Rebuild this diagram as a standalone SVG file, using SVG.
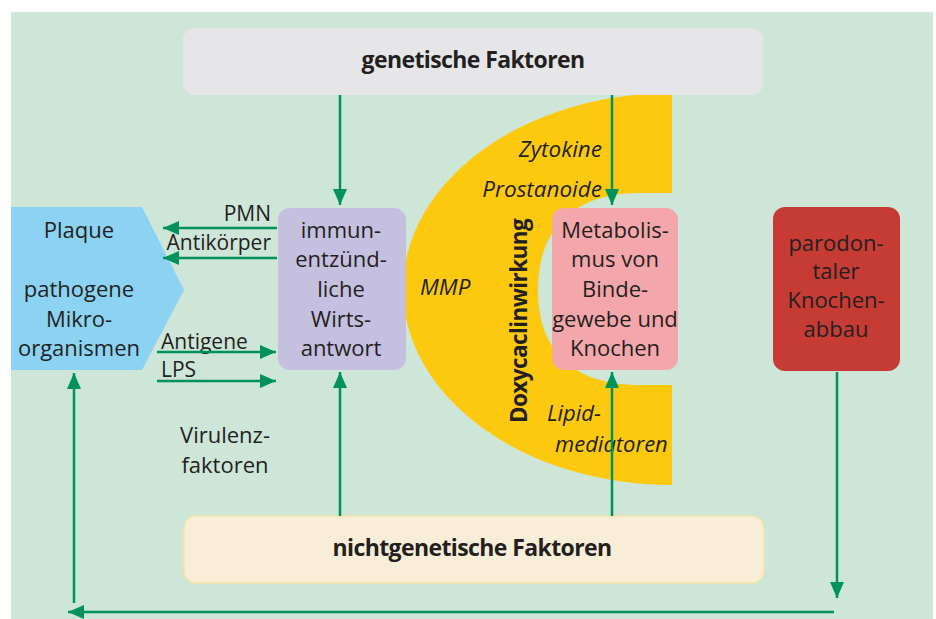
<svg xmlns="http://www.w3.org/2000/svg" width="936" height="619" viewBox="0 0 936 619">
<style>
.t{font-family:"Open Sans","Noto Sans",sans-serif;font-size:22px;fill:#231F20;text-anchor:middle}
.s{font-family:"Open Sans","Noto Sans",sans-serif;font-size:21px;fill:#231F20}
.i{font-family:"Open Sans","Noto Sans",sans-serif;font-size:22.5px;font-style:italic;fill:#231F20}
.b{font-family:"Open Sans","Noto Sans",sans-serif;font-size:23px;font-weight:bold;fill:#231F20;text-anchor:middle;letter-spacing:-0.6px}
.c{fill:none;stroke:#00925A;stroke-width:2.5}
</style>
<defs>
<marker id="ah" markerUnits="userSpaceOnUse" markerWidth="16" markerHeight="14" refX="16" refY="7" orient="auto">
<path d="M0,0 L16,7 L0,14 z" fill="#00925A"/>
</marker>
</defs>
<rect x="11" y="12" width="922" height="607" fill="#CDE6D8"/>
<g id="doxycyclin">
<path d="M672,93 A269,196 0 0 0 672,485 L672,385 L640,385 C572,385 538,350 538,290 C538,230 572,193 640,193 L672,193 Z" fill="#FDC90F"/>
<text class="i" x="602" y="157" text-anchor="end">Zytokine</text>
<text class="i" x="602" y="197" text-anchor="end">Prostanoide</text>
<text class="i" x="420" y="295">MMP</text>
<text class="i" x="547" y="421" style="font-size:22px">Lipid-</text>
<text class="i" x="555" y="452" style="font-size:22px">mediatoren</text>
<text class="b" transform="translate(527,321) rotate(-90)" x="0" y="0" style="font-size:22.5px">Doxycaclinwirkung</text>
</g>
<g id="genetisch">
<rect x="183" y="28" width="580" height="67" rx="12" fill="#E6E6E8"/>
<text class="b" x="473" y="68">genetische Faktoren</text>
</g>
<g id="nichtgenetisch">
<rect x="184" y="516" width="580" height="67" rx="12" fill="#F8EDD7" stroke="#F4E5A6" stroke-width="1.5"/>
<text class="b" x="472" y="556">nichtgenetische Faktoren</text>
</g>
<g id="plaque">
<path d="M11,207 L142,207 L184,290 L142,370 L11,370 Z" fill="#8CD3F3"/>
<text class="t" x="79" y="238">Plaque</text>
<text class="t" x="79" y="297">pathogene</text>
<text class="t" x="79" y="327">Mikro-</text>
<text class="t" x="79" y="356">organismen</text>
</g>
<g id="wirtsantwort">
<rect x="278" y="208" width="128" height="162" rx="12" fill="#C5BFE0"/>
<text class="t" x="341" y="238">immun-</text>
<text class="t" x="341" y="267">entzünd-</text>
<text class="t" x="341" y="297">liche</text>
<text class="t" x="341" y="327">Wirts-</text>
<text class="t" x="341" y="356">antwort</text>
</g>
<g id="metabolismus">
<rect x="552" y="208" width="126" height="162" rx="12" fill="#F4A7AB"/>
<text class="t" x="615" y="238">Metabolis-</text>
<text class="t" x="615" y="267">mus von</text>
<text class="t" x="615" y="297">Binde-</text>
<text class="t" x="615" y="327">gewebe und</text>
<text class="t" x="615" y="356">Knochen</text>
</g>
<g id="knochenabbau">
<rect x="773" y="207" width="127" height="164" rx="12" fill="#C63C34"/>
<text class="t" x="836" y="251">parodon-</text>
<text class="t" x="836" y="279">taler</text>
<text class="t" x="836" y="308">Knochen-</text>
<text class="t" x="836" y="337">abbau</text>
</g>
<g id="labels">
<text class="s" x="271" y="221" text-anchor="end">PMN</text>
<text class="s" x="271" y="250" text-anchor="end">Antikörper</text>
<text class="s" x="161" y="349">Antigene</text>
<text class="s" x="161" y="377">LPS</text>
<text class="t" x="225" y="443">Virulenz-</text>
<text class="t" x="225" y="473">faktoren</text>
</g>
<g id="connectors">
<line class="c" x1="340" y1="95" x2="340" y2="205" marker-end="url(#ah)"/>
<line class="c" x1="612" y1="95" x2="612" y2="205" marker-end="url(#ah)"/>
<line class="c" x1="340" y1="516" x2="340" y2="372" marker-end="url(#ah)"/>
<line class="c" x1="612" y1="516" x2="612" y2="372" marker-end="url(#ah)"/>
<line class="c" x1="277" y1="228" x2="163" y2="228" marker-end="url(#ah)"/>
<line class="c" x1="277" y1="258" x2="163" y2="258" marker-end="url(#ah)"/>
<line class="c" x1="157" y1="352" x2="276" y2="352" marker-end="url(#ah)"/>
<line class="c" x1="157" y1="381" x2="276" y2="381" marker-end="url(#ah)"/>
<line class="c" x1="837" y1="372" x2="837" y2="598" marker-end="url(#ah)"/>
<line class="c" x1="834" y1="612" x2="68" y2="612" marker-end="url(#ah)"/>
<line class="c" x1="74" y1="603" x2="74" y2="373" marker-end="url(#ah)"/>
</g>
</svg>
